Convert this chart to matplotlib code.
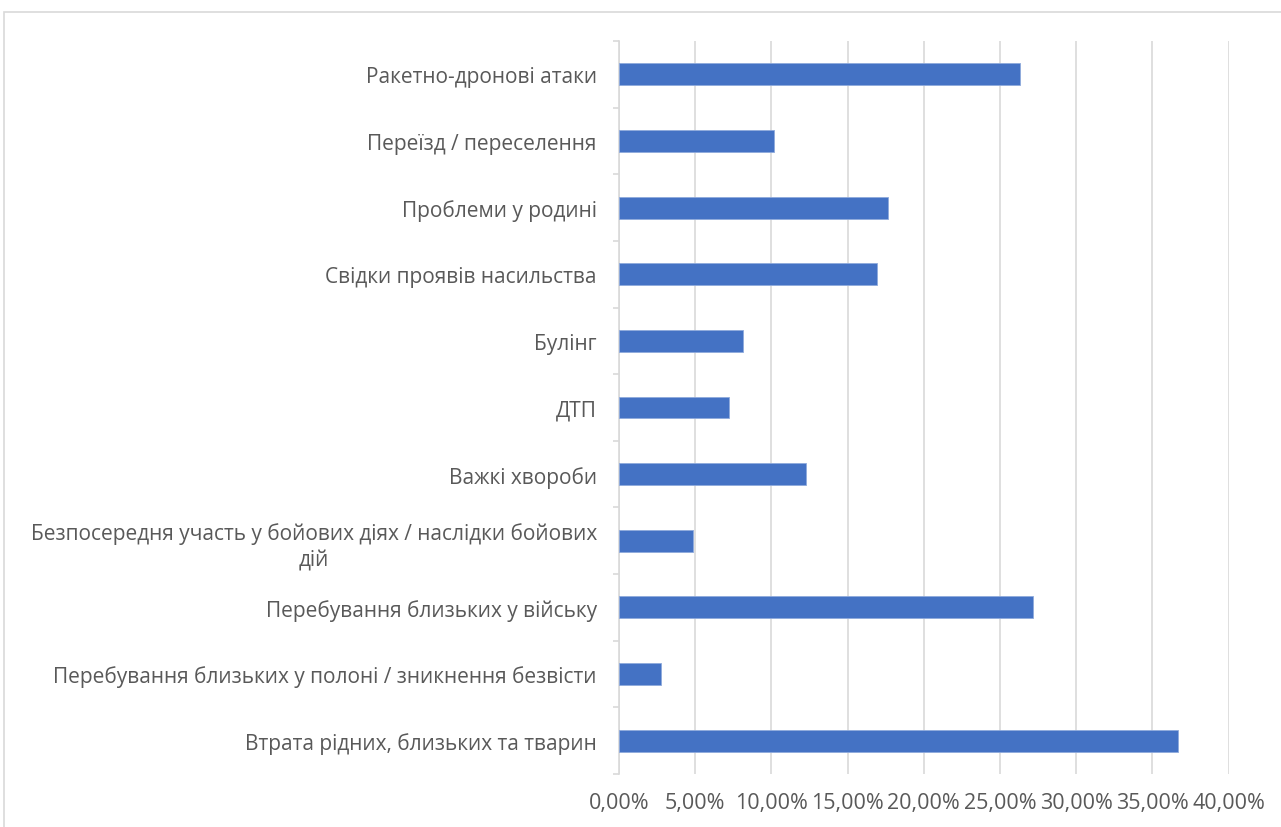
import matplotlib
matplotlib.use("Agg")
import matplotlib.pyplot as plt
from matplotlib.patches import Rectangle
from matplotlib.ticker import FuncFormatter
import numpy as np

categories = [
    "Ракетно-дронові атаки",
    "Переїзд / переселення",
    "Проблеми у родині",
    "Свідки проявів насильства",
    "Булінг",
    "ДТП",
    "Важкі хвороби",
    "Безпосередня участь у бойових діях / наслідки бойових\nдій",
    "Перебування близьких у війську",
    "Перебування близьких у полоні / зникнення безвісти",
    "Втрата рідних, близьких та тварин",
]
values = [26.3, 10.15, 17.65, 16.9, 8.15, 7.25, 12.25, 4.85, 27.2, 2.75, 36.7]
x_ticks = [0, 5, 10, 15, 20, 25, 30, 35, 40]

plt.rcParams['font.family'] = ['Open Sans', 'DejaVu Sans']
text_color = "#595959"
grid_color = "#D9D9D9"
bar_color = "#4472C4"

fig = plt.figure(figsize=(12.81, 8.28), dpi=100)
ax = fig.add_axes([619 / 1281, 1 - 775 / 828, (1228.5 - 619) / 1281, (775 - 42) / 828])

# chart border
fig.patches.append(Rectangle((4 / 1281, -0.01), 1.0, 1 - 12.5 / 828 + 0.01,
                             transform=fig.transFigure, fill=False,
                             edgecolor="#D9D9D9", linewidth=1.2))

y = np.arange(len(categories))
ax.barh(y, values, height=0.33, color=bar_color, edgecolor="#8FAADC",
        linewidth=0.6, zorder=3)

ax.set_xlim(0, 40)
ax.set_ylim(len(categories) - 0.5, -0.5)
ax.set_xticks(x_ticks)
ax.xaxis.set_major_formatter(FuncFormatter(lambda v, p: f"{v:.2f}%".replace(".", ",")))
ax.grid(axis="x", color=grid_color, linewidth=1.2, zorder=0)
ax.set_axisbelow(True)

ax.set_yticks(y)
ax.set_yticklabels(categories, multialignment="center", linespacing=1.35)
ax.set_yticks(np.arange(len(categories) + 1) - 0.5, minor=True)
ax.tick_params(axis="y", which="major", length=0, pad=16, labelsize=15,
               labelcolor=text_color)
ax.tick_params(axis="y", which="minor", length=4.5, width=1.2, color=grid_color,
               direction="out")
ax.tick_params(axis="x", length=0, pad=13, labelsize=15.5, labelcolor=text_color)

for s in ["top", "right", "bottom"]:
    ax.spines[s].set_visible(False)
ax.spines["left"].set_color(grid_color)
ax.spines["left"].set_linewidth(1.2)

fig.savefig("out.png", dpi=100)
